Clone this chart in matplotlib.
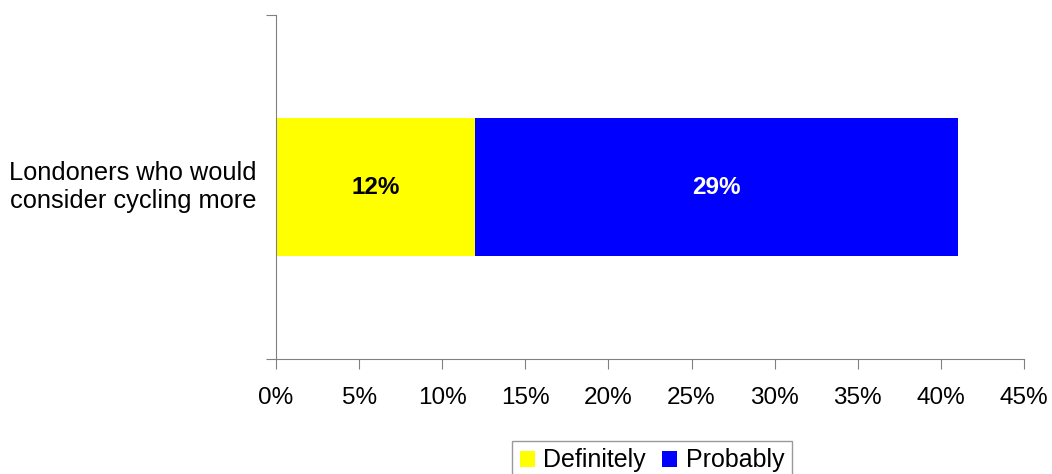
import numpy as np
import matplotlib.pyplot as plt

plt.rcParams['font.family'] = ['Liberation Sans', 'DejaVu Sans']

category = ['Londoners who would\nconsider cycling more']
series_names = ['Definitely', 'Probably']
series_values = [12, 29]
series_colors = ['#FFFF00', '#0000FF']
label_colors = ['black', 'white']

fs = 17.5

fig = plt.figure(figsize=(10.52, 4.74), dpi=100)
ax = fig.add_axes([276/1052, 1-359/474, 748/1052, 344/474])

left = 0
for name, val, col, lc in zip(series_names, series_values, series_colors, label_colors):
    ax.barh(0, val, left=left, height=0.4, color=col, label=name)
    ax.text(left + val/2, 0, str(val) + '%', ha='center', va='center',
            color=lc, fontsize=fs, fontweight='bold')
    left += val

ax.set_xlim(0, 45)
ax.set_ylim(-0.5, 0.5)
ax.set_xticks(np.arange(0, 50, 5))
ax.set_xticklabels([str(t) + '%' for t in range(0, 50, 5)], fontsize=fs)
ax.set_yticks([-0.5, 0.5])
ax.set_yticklabels(['', ''])
# category label drawn by hand so it can wrap like the original
ax.text(-1.15, 0, category[0], ha='right', va='center', fontsize=18.3, linespacing=1.2)

for s in ['top', 'right']:
    ax.spines[s].set_visible(False)
for s in ['left', 'bottom']:
    ax.spines[s].set_color('#808080')
ax.tick_params(axis='both', colors='#808080', length=7, labelcolor='black')
ax.tick_params(axis='x', pad=13)

leg = fig.legend(loc='upper left', bbox_to_anchor=(512/1052, 1-441/474), ncol=2,
                 fontsize=18, frameon=True, fancybox=False, edgecolor='#808080',
                 handlelength=0.6, handleheight=0.6, handletextpad=0.35,
                 columnspacing=0.65, borderpad=0.3, borderaxespad=0)
leg.get_frame().set_linewidth(1.0)

fig.savefig('out.png', dpi=100)
